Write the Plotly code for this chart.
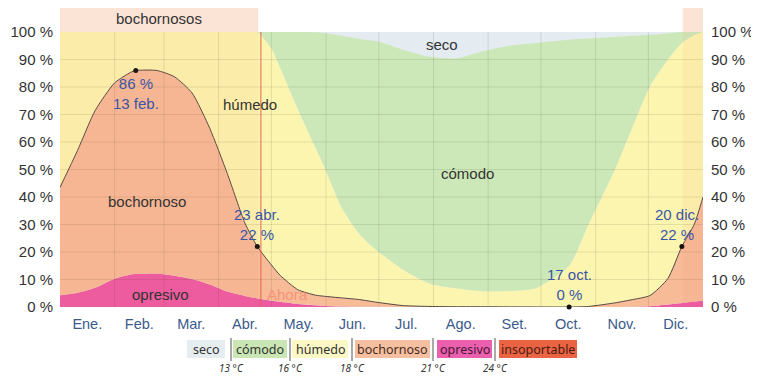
import plotly.graph_objects as go

# ---------------- data ----------------
months = ["Ene.", "Feb.", "Mar.", "Abr.", "May.", "Jun.", "Jul.", "Ago.", "Set.", "Oct.", "Nov.", "Dic."]
month_days = [31, 28, 31, 30, 31, 30, 31, 31, 30, 31, 30, 31]

days = [0, 10, 20, 31, 40, 43, 55, 65, 75, 85, 95, 105, 112, 120, 125, 135, 145, 150,
        160, 170, 180, 195, 210, 225, 240, 255, 270, 289, 300, 315, 325, 335, 345, 353, 360, 365]

# cumulative % of time (from the bottom): insoportable, + opresivo, + bochornoso, + húmedo, + cómodo
cum_insoportable = [0, 0, 0, 0, 0, 0, 0, 0, 0, 0, 0, 0, 0, 0, 0, 0, 0, 0,
                    0, 0, 0, 0, 0, 0, 0, 0, 0, 0, 0, 0, 0, 0, 0, 0, 0, 0]
cum_opresivo = [4.3, 5.2, 7.0, 10.3, 11.8, 12.0, 12.2, 11.4, 10.2, 8.2, 5.6, 4.0, 3.1, 2.3, 1.9, 1.1, 0.6, 0.4,
                0.2, 0.1, 0.05, 0, 0, 0, 0, 0, 0, 0, 0, 0, 0.1, 0.3, 0.9, 1.5, 2.0, 2.4]
cum_bochornoso = [43.5, 57, 71.5, 81.5, 85.3, 86, 86, 83.7, 77.8, 65, 48.5, 30.5, 22, 15.3, 11.5, 6.3, 4.3, 3.9,
                  3.3, 2.7, 1.7, 0.5, 0.2, 0.1, 0.1, 0.05, 0.02, 0, 0.2, 1.5, 2.7, 4.2, 10.3, 22, 30, 40]
cum_humedo = [100, 100, 100, 100, 100, 100, 100, 100, 100, 100, 100, 100, 100, 94, 87, 72, 58, 51,
              36, 26.5, 20.5, 13.5, 8.5, 6.8, 5.7, 5.8, 6.8, 15, 30, 50, 65.5, 80.5, 90, 96, 98.8, 100]
cum_comodo = [100, 100, 100, 100, 100, 100, 100, 100, 100, 100, 100, 100, 100, 100, 100, 100, 99.9, 99.6,
              98.6, 97.5, 96.6, 93.5, 91, 90.4, 93, 95, 96, 97.2, 97.6, 98.2, 98.6, 99, 99.5, 100, 100, 100]

marked_days = [43, 112, 289, 353]
marked_values = [86, 22, 0, 22]
marked_labels = ["86 %<br>13 feb.", "23 abr.<br>22 %", "17 oct.<br>0 %", "20 dic.<br>22 %"]

muggy_periods = [(0, 112.5), (353.5, 365)]
now_day = 114

band_names = ["seco", "cómodo", "húmedo", "bochornoso", "opresivo", "insoportable"]
thresholds = ["13 °C", "16 °C", "18 °C", "21 °C", "24 °C"]

# ---------------- styling ----------------
C_SECO = "#e4ecf2"
C_COMODO = "#cde8b8"
C_HUMEDO = "#fcf5b0"
C_BOCH = "#f8bb98"
C_OPRES = "#ec5aa4"
C_INSOP = "#e9603f"

legend_fill = ["#e6edf1", "#c9e6b4", "#fbf8c5", "#f5c0a1", "#ea5fae", "#ea6443"]
legend_text = ["#333333", "#333333", "#333333", "#4a2a20", "#4a1535", "#4a1a10"]

FONT = "Liberation Sans, Arial, sans-serif"
LFONT = "Noto Sans, Open Sans, sans-serif"

# page body has an 8px margin: compensate so the plot lands where the reference has it
OFF = 8
W, H = 759 - OFF, 381 - OFF
L, R, T, B = 60 - OFF, 56, 32 - OFF, 74
PW, PH = W - L - R, H - T - B


def px(xp):
    # xp: target window pixel
    return (xp - OFF - L) / PW


def py(yp):
    return (T + PH - (yp - OFF)) / PH


fig = go.Figure()

common = dict(x=days, mode="lines", line=dict(width=0, shape="spline", smoothing=0.6),
              hoverinfo="skip", showlegend=False)
fig.add_trace(go.Scatter(y=cum_insoportable, fill="tozeroy", fillcolor=C_INSOP, **common))
fig.add_trace(go.Scatter(y=cum_opresivo, fill="tonexty", fillcolor=C_OPRES, **common))
fig.add_trace(go.Scatter(y=cum_bochornoso, fill="tonexty", fillcolor=C_BOCH, **common))
fig.add_trace(go.Scatter(y=cum_humedo, fill="tonexty", fillcolor=C_HUMEDO, **common))
fig.add_trace(go.Scatter(y=cum_comodo, fill="tonexty", fillcolor=C_COMODO, **common))
# black line on top
fig.add_trace(go.Scatter(x=days, y=cum_bochornoso, mode="lines",
                         line=dict(color="#54463f", width=1, shape="spline", smoothing=0.6),
                         hoverinfo="skip", showlegend=False))
fig.add_trace(go.Scatter(x=marked_days, y=marked_values, mode="markers",
                         marker=dict(color="#111111", size=5), hoverinfo="skip", showlegend=False,
                         cliponaxis=False))
# right axis helper
fig.add_trace(go.Scatter(x=[days[0]], y=[0], yaxis="y2", mode="markers",
                         marker=dict(opacity=0), hoverinfo="skip", showlegend=False))

shapes = []
grid_col = "rgba(60,60,40,0.13)"
for v in range(10, 100, 10):
    shapes.append(dict(type="line", xref="paper", yref="y", x0=0, x1=1, y0=v, y1=v,
                       line=dict(color=grid_col, width=1), layer="above"))
acc = 0
for md in month_days[:-1]:
    acc += md
    shapes.append(dict(type="line", xref="x", yref="paper", x0=acc, x1=acc, y0=0, y1=1,
                       line=dict(color=grid_col, width=1), layer="above"))
for a, b in muggy_periods:
    shapes.append(dict(type="rect", xref="x", yref="paper", x0=a, x1=b, y0=0, y1=1,
                       fillcolor="rgba(245,130,80,0.07)", line=dict(width=0), layer="above"))
    shapes.append(dict(type="rect", xref="x", yref="paper", x0=a, x1=b, y0=1, y1=py(5),
                       fillcolor="#fbe3d6", line=dict(width=0), layer="above"))
shapes.append(dict(type="line", xref="x", yref="paper", x0=now_day, x1=now_day, y0=0, y1=1,
                   line=dict(color="rgba(232,95,75,0.65)", width=1.5), layer="above"))

annotations = []
for d, v, t in zip(marked_days, marked_values, marked_labels):
    if v > 50:
        annotations.append(dict(x=d, y=v, text=t, showarrow=False, xanchor="center", yanchor="top", yshift=-2,
                                font=dict(family=FONT, size=15, color="#3a55a5")))
    else:
        xs = -5 if d > 340 else 0
        annotations.append(dict(x=d, y=v, text=t, showarrow=False, xanchor="center", yanchor="bottom",
                                yshift=2, xshift=xs, font=dict(family=FONT, size=15, color="#3a55a5")))

band_label_font = dict(family=FONT, size=15, color="#333333")
annotations += [
    dict(x=(muggy_periods[0][0] + muggy_periods[0][1]) / 2, y=py(19), yref="paper", text="bochornosos",
         showarrow=False, xanchor="center", yanchor="middle", font=band_label_font),
    dict(x=217, y=95.6, text="seco", showarrow=False, xanchor="center", font=band_label_font),
    dict(x=108, y=73.5, text="húmedo", showarrow=False, xanchor="center", font=band_label_font),
    dict(x=231.5, y=48.7, text="cómodo", showarrow=False, xanchor="center", font=band_label_font),
    dict(x=49.4, y=38.2, text="bochornoso", showarrow=False, xanchor="center", font=band_label_font),
    dict(x=56.8, y=4.7, text="opresivo", showarrow=False, xanchor="center", font=band_label_font),
    dict(x=now_day + 15, y=4.7, text="Ahora", showarrow=False, xanchor="center",
         font=dict(family=FONT, size=15, color="#f59478")),
]

# legend
box_x = [(187, 225), (233, 287), (292, 348), (355, 430), (437, 492), (499, 577)]
for (x0, x1), name, fc, tc in zip(box_x, band_names, legend_fill, legend_text):
    shapes.append(dict(type="rect", xref="paper", yref="paper", x0=px(x0), x1=px(x1),
                       y0=py(358), y1=py(340), fillcolor=fc, line=dict(width=0)))
    annotations.append(dict(x=px((x0 + x1) / 2), y=py(349), xref="paper", yref="paper", text=name,
                            xanchor="center", yanchor="middle", showarrow=False,
                            font=dict(family=LFONT, size=12.5, color=tc)))
sep_x = [231, 290, 352, 433, 495]
for sx, t in zip(sep_x, thresholds):
    shapes.append(dict(type="line", xref="paper", yref="paper", x0=px(sx), x1=px(sx),
                       y0=py(361), y1=py(338), line=dict(color="#555555", width=1)))
    annotations.append(dict(x=px(sx), y=py(368), xref="paper", yref="paper", text="<i>" + t + "</i>",
                            xanchor="center", yanchor="middle", showarrow=False,
                            font=dict(family=LFONT, size=10, color="#333333")))

centres = []
acc = 0
for md in month_days:
    centres.append(acc + md / 2)
    acc += md

yticks = list(range(0, 101, 10))
ytext = [f"{v} %" for v in yticks]

fig.update_layout(
    width=W, height=H,
    margin=dict(l=L, r=R, t=T, b=B, pad=0, autoexpand=False),
    paper_bgcolor="white",
    plot_bgcolor=C_SECO,
    shapes=shapes,
    annotations=annotations,
    xaxis=dict(range=[0, 365], tickvals=centres, ticktext=months, showgrid=False, zeroline=False,
               ticks="outside", ticklen=4, tickcolor="rgba(0,0,0,0)", automargin=False,
               tickfont=dict(family=FONT, size=14.5, color="#3b5a8c"), fixedrange=True),
    yaxis=dict(range=[0, 100], tickvals=yticks, ticktext=ytext, showgrid=False, zeroline=False,
               ticks="outside", ticklen=3, tickcolor="rgba(0,0,0,0)", automargin=False,
               tickfont=dict(family=FONT, size=15, color="#333333"), fixedrange=True),
    yaxis2=dict(range=[0, 100], tickvals=yticks, ticktext=ytext, overlaying="y", side="right",
                showgrid=False, zeroline=False, ticks="outside", ticklen=4, tickcolor="rgba(0,0,0,0)",
                automargin=False, tickfont=dict(family=FONT, size=15, color="#333333"), fixedrange=True),
    showlegend=False,
)

fig.write_html("out.html")
